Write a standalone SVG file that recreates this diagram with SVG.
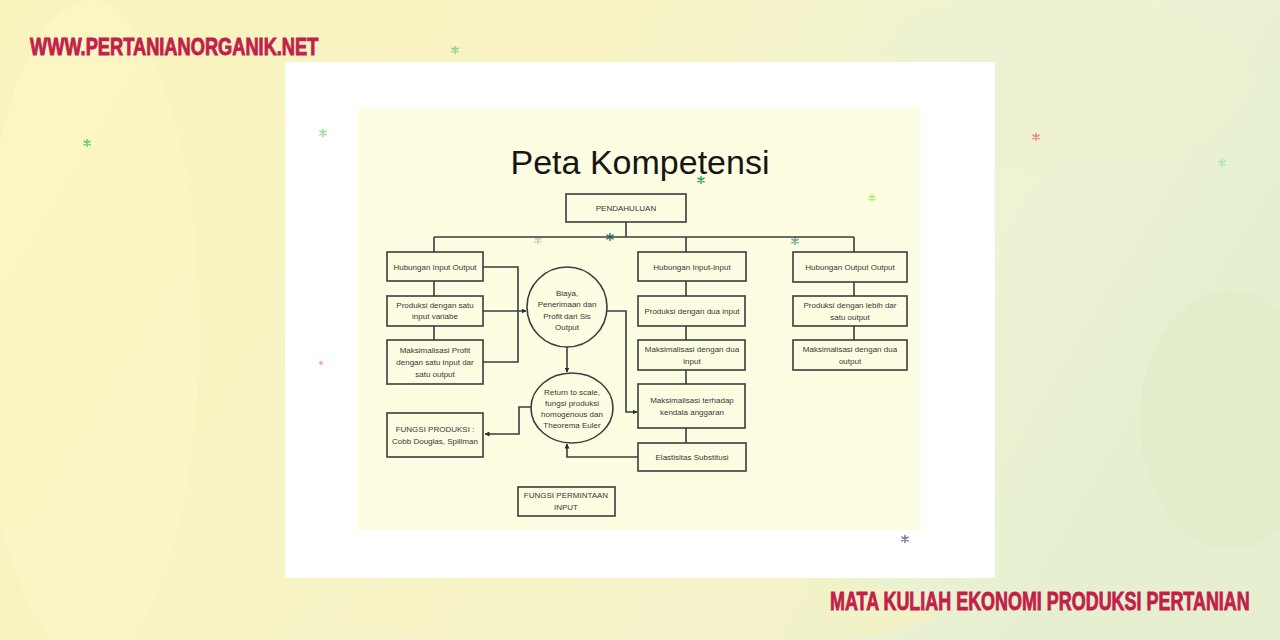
<svg xmlns="http://www.w3.org/2000/svg" width="1280" height="640" viewBox="0 0 1280 640">
<defs>
<linearGradient id="bg" x1="0" y1="0" x2="1" y2="0.3">
<stop offset="0" stop-color="#f9f4bc"/>
<stop offset="0.45" stop-color="#f7f3c4"/>
<stop offset="0.8" stop-color="#eef3d4"/>
<stop offset="1" stop-color="#e6f0d0"/>
</linearGradient>
<marker id="ah" viewBox="0 0 10 10" refX="9" refY="5" markerWidth="5" markerHeight="5" orient="auto" markerUnits="userSpaceOnUse">
<path d="M0,0 L10,5 L0,10 z" fill="#2e2e2e"/>
</marker>
<path id="star" d="M0,-3.5 V3.5 M-3,-1.8 L3,1.8 M-3,1.8 L3,-1.8"/>
<style>
.box{fill:none;stroke:#3d3d3d;stroke-width:1.6}
.ln{fill:none;stroke:#3d3d3d;stroke-width:1.6}
.t{font-family:"Liberation Sans",Arial,sans-serif;font-size:8px;fill:#383838;text-anchor:middle}
.hdr{font-family:"Liberation Sans",Arial,sans-serif;font-weight:bold;fill:#c21f4b;stroke:#c21f4b;stroke-width:0.9}
.sr{stroke-width:1.6;fill:none;stroke-linecap:round}
</style>
</defs>
<rect width="1280" height="640" fill="url(#bg)"/>
<ellipse cx="90" cy="330" rx="110" ry="330" fill="#fbf7c6" opacity="0.6"/>
<ellipse cx="1230" cy="420" rx="90" ry="130" fill="#dfecc9" opacity="0.7"/>
<ellipse cx="1050" cy="80" rx="200" ry="90" fill="#eef2d2" opacity="0.6"/>
<ellipse cx="640" cy="610" rx="300" ry="40" fill="#f6f1c2" opacity="0.6"/>
<text class="hdr" transform="translate(30,55) scale(0.793,1)" x="0" y="0" font-size="23">WWW.PERTANIANORGANIK.NET</text>
<text class="hdr" transform="translate(830,610) scale(0.69,1)" x="0" y="0" font-size="26">MATA KULIAH EKONOMI PRODUKSI PERTANIAN</text>
<rect x="285" y="62" width="710" height="516" fill="#ffffff"/>
<rect x="358" y="108" width="562" height="422" fill="#fdfde1"/>
<text x="640" y="174" font-family="'Liberation Sans',Arial,sans-serif" font-size="34" fill="#161616" text-anchor="middle">Peta Kompetensi</text>
<g id="decor">
<use href="#star" class="sr" x="455" y="50" stroke="#8fd79a"/>
<use href="#star" class="sr" x="87" y="143" stroke="#6fcf6a"/>
<use href="#star" class="sr" x="323" y="133" stroke="#9fdca0"/>
<use href="#star" class="sr" x="701" y="180" stroke="#3daa70"/>
<use href="#star" class="sr" x="872" y="198" stroke="#b7ec7a"/>
<use href="#star" class="sr" x="610" y="237" stroke="#2f8a8a"/>
<use href="#star" class="sr" x="538" y="240" stroke="#d0d0b8"/>
<use href="#star" class="sr" x="795" y="241" stroke="#7fa8a0"/>
<use href="#star" class="sr" x="1036" y="137" stroke="#ef8f80"/>
<use href="#star" class="sr" x="1222" y="163" stroke="#b8e6b0"/>
<use href="#star" class="sr" x="905" y="539" stroke="#7a7f9a"/>
<use href="#star" class="sr" x="321" y="363" stroke="#e8a090" transform="translate(321,363) scale(0.6) translate(-321,-363)"/>
</g>
<g id="connectors">
<path class="ln" d="M626,222 V237 M434,237 H854 M434,237 V252 M686,237 V252 M854,237 V252"/>
<path class="ln" d="M434,281 V296 M434,326 V340"/>
<path class="ln" d="M686,281 V296 M686,326 V340 M686,370 V384 M686,428 V443"/>
<path class="ln" d="M854,282 V296 M854,326 V340"/>
<path class="ln" d="M483,267 H518 V362 H483"/>
<path class="ln" d="M483,311 H526" marker-end="url(#ah)"/>
<path class="ln" d="M567,347 V372" marker-end="url(#ah)"/>
<path class="ln" d="M606,311 H626 V412 H637" marker-end="url(#ah)"/>
<path class="ln" d="M531,407 H519 V434 H485" marker-end="url(#ah)"/>
<path class="ln" d="M638,457 H567 V444" marker-end="url(#ah)"/>
</g>
<g id="n-pendahuluan"><rect class="box" x="566" y="194" width="120" height="28"/><text class="t" x="626" y="211" font-size="7.5">PENDAHULUAN</text></g>
<g id="n-hio"><rect class="box" x="387" y="252" width="96" height="29"/><text class="t" x="435" y="270">Hubungan Input Output</text></g>
<g id="n-psatu"><rect class="box" x="387" y="296" width="96" height="30"/><text class="t" x="435" y="308">Produksi dengan satu</text><text class="t" x="435" y="319">input variabe</text></g>
<g id="n-mprofit"><rect class="box" x="387" y="340" width="96" height="44"/><text class="t" x="435" y="353">Maksimalisasi Profit</text><text class="t" x="435" y="365">dengan satu input dar</text><text class="t" x="435" y="377">satu output</text></g>
<g id="n-fproduksi"><rect class="box" x="387" y="413" width="96" height="44"/><text class="t" x="435" y="432">FUNGSI PRODUKSI :</text><text class="t" x="435" y="444">Cobb Douglas, Spillman</text></g>
<g id="n-biaya"><ellipse class="box" cx="567" cy="307" rx="40" ry="40"/><text class="t" x="567" y="296">Biaya,</text><text class="t" x="567" y="307">Penerimaan dan</text><text class="t" x="567" y="319">Profit dari Sis</text><text class="t" x="567" y="330">Output</text></g>
<g id="n-return"><ellipse class="box" cx="572" cy="408" rx="41" ry="35"/><text class="t" x="572" y="395">Return to scale,</text><text class="t" x="572" y="406">fungsi produksi</text><text class="t" x="572" y="417">homogenous dan</text><text class="t" x="572" y="428">Theorema Euler</text></g>
<g id="n-fpermintaan"><rect class="box" x="518" y="487" width="97" height="29"/><text class="t" x="566" y="498">FUNGSI PERMINTAAN</text><text class="t" x="566" y="510">INPUT</text></g>
<g id="n-hii"><rect class="box" x="638" y="252" width="108" height="29"/><text class="t" x="692" y="270">Hubungan Input-Input</text></g>
<g id="n-pdua"><rect class="box" x="638" y="296" width="107" height="30"/><text class="t" x="692" y="314">Produksi dengan dua input</text></g>
<g id="n-mdua"><rect class="box" x="638" y="340" width="107" height="30"/><text class="t" x="692" y="352">Maksimalisasi dengan dua</text><text class="t" x="692" y="364">input</text></g>
<g id="n-mkendala"><rect class="box" x="638" y="384" width="107" height="44"/><text class="t" x="692" y="403">Maksimalisasi terhadap</text><text class="t" x="692" y="415">kendala anggaran</text></g>
<g id="n-elastisitas"><rect class="box" x="638" y="443" width="108" height="28"/><text class="t" x="692" y="460">Elastisitas Substitusi</text></g>
<g id="n-hoo"><rect class="box" x="793" y="252" width="114" height="30"/><text class="t" x="850" y="270">Hubungan Output Output</text></g>
<g id="n-plebih"><rect class="box" x="793" y="296" width="114" height="30"/><text class="t" x="850" y="308">Produksi dengan lebih dar</text><text class="t" x="850" y="320">satu output</text></g>
<g id="n-mduaout"><rect class="box" x="793" y="340" width="114" height="30"/><text class="t" x="850" y="352">Maksimalisasi dengan dua</text><text class="t" x="850" y="364">output</text></g>
</svg>
